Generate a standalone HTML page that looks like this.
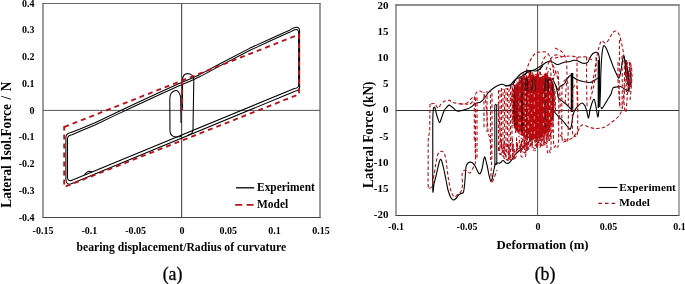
<!DOCTYPE html>
<html><head><meta charset="utf-8">
<style>
html,body{margin:0;padding:0;background:#fff;width:685px;height:284px;overflow:hidden}
svg{display:block;will-change:transform}
text{font-family:"Liberation Serif",serif;font-weight:bold;fill:#000}
.t{font-size:10px}
</style></head><body>
<svg width="685" height="284" viewBox="0 0 685 284">
<!-- ===== Plot (a) ===== -->
<g id="pa">
<line x1="42.4" y1="3.5" x2="320.6" y2="3.5" stroke="#666" stroke-width="1"/>
<line x1="42.4" y1="217.5" x2="320.6" y2="217.5" stroke="#444" stroke-width="1"/>
<line x1="43" y1="3" x2="43" y2="218" stroke="#666" stroke-width="1.3"/>
<line x1="320" y1="3" x2="320" y2="218" stroke="#666" stroke-width="1.3"/>
<line x1="43" y1="110.4" x2="320" y2="110.4" stroke="#555" stroke-width="1"/>
<line x1="181.6" y1="3.5" x2="181.6" y2="217.5" stroke="#555" stroke-width="1.2"/>
<g class="t" text-anchor="end">
<text x="34.5" y="6.5">0.4</text>
<text x="34.5" y="33.3">0.3</text>
<text x="34.5" y="60">0.2</text>
<text x="34.5" y="86.8">0.1</text>
<text x="34.5" y="113.5">0</text>
<text x="34.5" y="140.3">-0.1</text>
<text x="34.5" y="167">-0.2</text>
<text x="34.5" y="193.8">-0.3</text>
<text x="34.5" y="220.5">-0.4</text>
</g>
<g class="t" text-anchor="middle">
<text x="43" y="233.5">-0.15</text>
<text x="89.3" y="233.5">-0.1</text>
<text x="135.6" y="233.5">-0.05</text>
<text x="182" y="233.5">0</text>
<text x="228.3" y="233.5">0.05</text>
<text x="274.6" y="233.5">0.1</text>
<text x="320.9" y="233.5">0.15</text>
</g>
<text x="181.3" y="251" text-anchor="middle" style="font-size:11.68px">bearing displacement/Radius of curvature</text>
<text transform="translate(10.8,144.7) scale(1.1,1) rotate(-90)" text-anchor="middle" style="font-size:13.4px;word-spacing:1.2px">Lateral Isol.Force / N</text>
<!-- data -->
<g fill="none" stroke="#000" stroke-width="1.05">
<path stroke-linejoin="round" d="M65.9,179 L65.9,137.5 Q65.9,133.5 71,132.6 L80.0,129.1 L95.0,122.8 L115.0,113.2 L135.0,103.8 L155.0,94.5 L178.0,84.0 L190.0,79.1 L200.0,74.4 L220.0,63.7 L250.0,48.1 L270.0,38.9 L290.0,29.9 L293.5,27.9 Q299.6,25.5 299.6,31 L299.6,87.5 Q299.6,90.2 295,91.3 L72,183.5 Q65.9,186 65.9,179 Z"/>
<path stroke-linejoin="round" d="M67.5,177 L67.5,139 Q67.5,135.5 72,134.8 L80.0,131.3 L95.0,125.0 L115.0,115.4 L135.0,106.0 L155.0,96.7 L178.0,86.2 L190.0,81.3 L200.0,76.6 L220.0,65.9 L250.0,50.3 L270.0,41.1 L290.0,32.1 L294,30 Q298.6,28 298.6,33 L298.6,85.5 Q298.6,88 294.5,88.5 L72,180.2 Q67.5,182 67.5,177 Z"/>
<path d="M181,123 L180.7,97 C179.5,93 178,91 176.5,90.6 C175,90.4 173,91.5 171.8,92.5 C170.3,94 169.8,96 169.8,100 L170,131 C170,135 172,136.5 176,137 L181,136.5"/>
<path d="M182.5,110 L182.5,80 C182.8,75 185,73.6 187.5,73.6 C191,73.6 193.8,76 193.8,80 L193,130 C192.8,133 191,134.5 188,135"/>
<path d="M84.5,174.8 Q88,169.5 92,172"/>
</g>
<path d="M64.2,127 L299,34.5 L299,94.3 L64.2,187 Z M182.1,80.6 L182.1,110.5" fill="none" stroke="#b8141c" stroke-width="1.9" stroke-dasharray="5,4"/>
<!-- legend -->
<line x1="236" y1="187.8" x2="254.2" y2="187.8" stroke="#000" stroke-width="1.3"/>
<line x1="235.2" y1="204.9" x2="253.5" y2="204.9" stroke="#b8141c" stroke-width="1.9" stroke-dasharray="7,4.4"/>
<text x="257" y="191.4" style="font-size:11.45px">Experiment</text>
<text x="257" y="208.3" style="font-size:11.45px">Model</text>
<text x="172.5" y="280" text-anchor="middle" style="font-size:17.8px;font-weight:normal;stroke:#000;stroke-width:0.3px">(a)</text>
</g>

<!-- ===== Plot (b) ===== -->
<g id="pb">
<line x1="395.4" y1="5" x2="679.6" y2="5" stroke="#696969" stroke-width="1.4"/>
<line x1="395.4" y1="215.5" x2="679.6" y2="215.5" stroke="#3c3c3c" stroke-width="1"/>
<line x1="396" y1="4.3" x2="396" y2="216" stroke="#777" stroke-width="1.4"/>
<line x1="679" y1="4.3" x2="679" y2="216" stroke="#888" stroke-width="1.4"/>
<line x1="396" y1="110.5" x2="679" y2="110.5" stroke="#333" stroke-width="1"/>
<line x1="537.6" y1="5" x2="537.6" y2="215.5" stroke="#555" stroke-width="1"/>
<g class="t" text-anchor="end" transform="translate(388.3,0) scale(1.1,1) translate(-388.3,0)">
<text x="388.5" y="8.5">20</text>
<text x="388.5" y="34.8">15</text>
<text x="388.5" y="61">10</text>
<text x="388.5" y="87.3">5</text>
<text x="388.5" y="113.5">0</text>
<text x="388.5" y="139.8">-5</text>
<text x="388.5" y="166">-10</text>
<text x="388.5" y="192.3">-15</text>
<text x="388.5" y="218.5">-20</text>
</g>
<g class="t" text-anchor="middle">
<text x="396" y="230">-0.1</text>
<text x="467" y="230">-0.05</text>
<text x="538" y="230">0</text>
<text x="608.5" y="230">0.05</text>
<text x="679.5" y="230">0.1</text>
</g>
<text x="542.6" y="248.7" text-anchor="middle" style="font-size:12.8px">Deformation (m)</text>
<text transform="translate(373.3,134.8) scale(1.1,1) rotate(-90)" text-anchor="middle" style="font-size:13.28px">Lateral Force (kN)</text>
<g id="bdata">
<path d="M465.0,109.5 C464.2,109.8 461.5,110.8 460.0,111.0 C458.5,111.2 457.3,111.2 456.0,110.5 C454.7,109.8 453.2,107.9 452.0,107.0 C450.8,106.1 450.0,104.9 449.0,105.1 C448.0,105.3 446.8,107.0 446.0,108.0 C445.2,109.0 444.8,109.3 444.0,111.0 C443.2,112.7 442.2,116.1 441.5,118.0 C440.8,119.9 440.2,122.9 439.5,122.6 C438.8,122.3 437.8,118.4 437.0,116.0 C436.2,113.6 435.4,109.5 435.0,108.0 C434.6,106.5 434.6,107.1 434.3,107.3 C434.0,107.5 433.6,106.9 433.3,109.0 C433.1,111.1 432.9,113.2 432.8,120.0 C432.7,126.8 432.8,138.2 432.8,150.0 C432.8,161.8 432.6,184.8 432.8,190.5 C433.0,196.2 433.5,186.4 434.0,184.0 C434.5,181.6 435.2,179.2 436.0,176.0 C436.8,172.8 437.8,167.8 438.5,165.0 C439.2,162.2 439.7,159.8 440.3,159.3 C440.9,158.8 441.4,160.2 442.0,162.0 C442.6,163.8 443.3,167.0 444.0,170.0 C444.7,173.0 445.3,176.7 446.0,180.0 C446.7,183.3 447.2,187.2 448.0,190.0 C448.8,192.8 449.7,195.3 450.5,197.0 C451.3,198.7 452.1,199.7 453.0,199.9 C453.9,200.2 455.1,199.3 456.0,198.5 C456.9,197.7 457.7,195.8 458.5,195.0 C459.3,194.2 460.2,194.0 461.0,193.5 C461.8,193.0 462.8,194.2 463.5,192.0 C464.2,189.8 464.6,184.2 465.0,180.0 C465.4,175.8 465.5,169.8 466.0,167.0 C466.5,164.2 467.0,163.8 468.0,163.0 C469.0,162.2 470.8,162.0 472.0,162.5 C473.2,163.0 474.0,164.4 475.0,166.0 C476.0,167.6 477.2,170.7 478.0,172.0 C478.8,173.3 479.3,174.3 480.0,173.8 C480.7,173.3 481.2,171.8 482.0,169.0 C482.8,166.2 483.7,157.7 484.5,157.0 C485.3,156.3 486.2,162.0 487.0,165.0 C487.8,168.0 488.3,172.3 489.0,175.0 C489.7,177.7 490.6,181.7 491.3,181.2 C492.1,180.7 492.9,174.7 493.5,172.0 C494.1,169.3 494.4,166.5 495.0,165.0 C495.6,163.5 496.2,163.3 497.0,163.0 C497.8,162.7 499.0,163.4 500.0,163.0 C501.0,162.6 502.0,160.5 503.0,160.5 C504.0,160.5 505.0,162.6 506.0,163.0 C507.0,163.4 508.0,163.6 509.0,163.0 C510.0,162.4 511.0,160.8 512.0,159.5 C513.0,158.2 513.7,156.6 515.0,155.0 C516.3,153.4 518.3,151.5 520.0,150.0 C521.7,148.5 523.3,147.5 525.0,146.0 C526.7,144.5 528.3,142.5 530.0,141.0 C531.7,139.5 534.2,137.7 535.0,137.0" stroke="#000" stroke-width="1.1" fill="none"/>
<path d="M465.0,109.5 C465.5,109.4 467.0,109.2 468.0,108.8 C469.0,108.4 469.7,107.9 471.0,107.0 C472.3,106.1 474.2,104.0 475.8,103.2 C477.4,102.4 479.1,103.0 480.6,102.0 C482.1,101.0 483.7,99.1 485.0,97.5 C486.3,95.9 487.0,94.0 488.5,92.4 C490.0,90.8 492.1,89.0 494.0,87.7 C495.9,86.4 498.2,85.4 499.6,84.8 C501.0,84.2 501.4,84.2 502.5,84.3 C503.6,84.4 504.8,85.4 506.0,85.5 C507.2,85.6 508.8,85.6 510.0,85.0 C511.2,84.4 512.0,83.0 513.0,82.0 C514.0,81.0 514.8,79.8 516.0,79.0 C517.2,78.2 518.5,78.3 520.0,77.5 C521.5,76.7 523.3,75.0 525.0,74.0 C526.7,73.0 528.3,72.2 530.0,71.5 C531.7,70.8 533.3,70.3 535.0,69.5 C536.7,68.7 538.3,67.5 540.0,66.5 C541.7,65.5 543.3,64.1 545.0,63.2 C546.7,62.3 548.3,61.1 550.0,61.1 C551.7,61.1 553.7,62.9 555.0,63.5 C556.3,64.1 556.8,64.6 558.0,64.5 C559.2,64.4 560.7,63.4 562.0,63.0 C563.3,62.6 564.7,62.2 566.0,62.0 C567.3,61.8 568.7,61.8 570.0,61.5 C571.3,61.2 572.7,60.4 574.0,60.3 C575.3,60.2 576.7,60.5 578.0,61.0 C579.3,61.5 580.8,62.6 582.0,63.0 C583.2,63.4 584.0,63.5 585.0,63.3 C586.0,63.1 587.2,63.0 588.0,62.0 C588.8,61.0 589.2,58.9 590.0,57.5 C590.8,56.1 592.0,54.4 593.0,53.5 C594.0,52.6 595.2,52.3 596.0,52.2 C596.8,52.1 597.5,52.4 598.0,53.0 C598.5,53.6 598.8,54.5 599.0,56.0 C599.2,57.5 599.4,58.0 599.5,62.0 C599.6,66.0 599.5,73.7 599.5,80.0 C599.5,86.3 599.4,95.5 599.3,100.0 C599.2,104.5 599.0,105.8 599.0,107.0" stroke="#000" stroke-width="1.1" fill="none"/>
<path d="M599.8,107.0 C599.9,104.2 600.3,95.3 600.5,90.0 C600.7,84.7 600.6,80.0 600.8,75.0 C601.0,70.0 601.2,64.2 601.5,60.0 C601.8,55.8 602.1,52.4 602.5,50.0 C602.9,47.6 603.2,46.1 603.7,45.6 C604.2,45.1 605.0,46.3 605.5,47.0 C606.0,47.7 606.2,48.2 607.0,50.0 C607.8,51.8 609.0,55.3 610.0,58.0 C611.0,60.7 612.0,63.5 613.0,66.0 C614.0,68.5 615.0,71.0 616.0,73.0 C617.0,75.0 618.2,78.6 619.0,78.1 C619.8,77.6 620.3,73.3 621.0,70.0 C621.7,66.7 622.5,60.3 623.0,58.0 C623.5,55.7 623.7,55.3 624.0,56.0 C624.3,56.7 624.7,58.8 625.0,62.0 C625.3,65.2 625.5,71.2 626.0,75.0 C626.5,78.8 627.7,83.3 628.0,85.0" stroke="#000" stroke-width="1.1" fill="none"/>
<path d="M601.0,107.0 C601.2,107.2 601.3,109.0 602.0,108.5 C602.7,108.0 604.0,105.6 605.0,104.0 C606.0,102.4 607.0,100.7 608.0,99.0 C609.0,97.3 610.2,95.8 611.0,94.0 C611.8,92.2 612.0,89.2 613.0,88.0 C614.0,86.8 615.8,87.3 617.0,87.0 C618.2,86.7 619.0,86.1 620.0,86.3 C621.0,86.5 622.0,87.4 623.0,88.0 C624.0,88.6 625.2,89.7 626.0,90.0 C626.8,90.3 627.3,90.7 628.0,90.0 C628.7,89.3 629.5,87.7 630.0,86.0 C630.5,84.3 631.0,82.7 631.0,80.0 C631.0,77.3 630.3,72.2 630.0,70.0 C629.7,67.8 629.2,67.5 629.0,67.0" stroke="#000" stroke-width="1.1" fill="none"/>
<path d="M552.0,78.0 C552.7,79.3 555.0,84.0 556.0,86.0 C557.0,88.0 557.3,89.9 558.0,90.0 C558.7,90.1 559.2,87.3 560.0,86.5 C560.8,85.7 562.2,85.6 563.0,85.0 C563.8,84.4 564.3,84.0 565.0,83.0 C565.7,82.0 566.3,80.1 567.0,79.0 C567.7,77.9 568.3,77.2 569.0,76.5 C569.7,75.8 570.7,75.2 571.0,75.0" stroke="#000" stroke-width="1.1" fill="none"/>
<path d="M573.0,77.0 C573.8,77.5 576.3,79.2 578.0,80.0 C579.7,80.8 581.0,81.1 583.0,81.5 C585.0,81.9 588.0,82.8 590.0,82.5 C592.0,82.2 593.7,80.8 595.0,80.0 C596.3,79.2 597.5,78.3 598.0,78.0" stroke="#000" stroke-width="1.1" fill="none"/>
<path d="M550.0,105.0 C550.5,105.8 551.7,108.2 553.0,110.0 C554.3,111.8 556.3,114.2 558.0,116.0 C559.7,117.8 561.5,119.3 563.0,121.0 C564.5,122.7 565.8,124.7 567.0,126.0 C568.2,127.3 569.5,129.7 570.3,129.0 C571.1,128.3 571.5,124.3 572.0,122.0 C572.5,119.7 572.5,117.0 573.0,115.0 C573.5,113.0 574.2,111.5 575.0,110.0 C575.8,108.5 576.8,107.2 578.0,106.0 C579.2,104.8 580.8,103.0 582.0,103.0 C583.2,103.0 584.2,104.5 585.0,106.0 C585.8,107.5 586.4,110.0 587.0,112.0 C587.6,114.0 588.0,118.3 588.5,118.0 C589.0,117.7 589.4,112.5 590.0,110.0 C590.6,107.5 591.3,104.8 592.0,103.0 C592.7,101.2 593.4,98.8 594.0,99.0 C594.6,99.2 595.0,101.7 595.5,104.0 C596.0,106.3 596.6,110.8 597.0,113.0 C597.4,115.2 597.7,117.5 598.0,117.0 C598.3,116.5 598.8,111.2 599.0,110.0" stroke="#000" stroke-width="1.1" fill="none"/>
<path d="M556.0,86.0 C556.2,87.2 557.1,91.0 557.5,93.0 C557.9,95.0 557.8,96.7 558.5,98.0 C559.2,99.3 560.8,100.0 562.0,101.0 C563.2,102.0 564.7,102.8 566.0,104.0 C567.3,105.2 568.8,106.8 570.0,108.0 C571.2,109.2 572.5,110.5 573.0,111.0" stroke="#000" stroke-width="1.1" fill="none"/>
<path d="M524.0,78.0 C524.3,77.2 525.3,74.2 526.0,73.0 C526.7,71.8 527.2,71.0 528.0,71.0 C528.8,71.0 530.2,71.5 531.0,73.0 C531.8,74.5 532.7,78.8 533.0,80.0" stroke="#000" stroke-width="1.1" fill="none"/>
<path d="M494.9,165 L494.8,106 Q495.7,102.5 496.7,106 L496.8,165" stroke="#000" stroke-width="1.05" fill="none"/>
<path d="M572,112 L572,73" stroke="#000" stroke-width="2.6" fill="none"/>
<path d="M598.3,108 L598.3,60" stroke="#000" stroke-width="1.3" fill="none"/>
<path d="M626,60 C627,64 628.5,70 629.3,76 C629.6,80 629.4,84 629,86 L628,86 C627.6,80 626.5,72 625.5,65 Z" fill="#a00010" stroke="none"/>
<path d="M549.8,78 L550.3,120" stroke="#000" stroke-width="1.4" fill="none"/>
<path d="M623,55 C625,58 626,66 628,72 C629,78 629.5,85 629,92" stroke="#000" stroke-width="1.2" fill="none"/>
<path d="M431.0,103.8 C431.7,103.8 433.8,103.0 435.0,103.8 C436.2,104.5 437.2,108.3 438.2,108.3 C439.2,108.3 439.9,105.2 441.0,104.0 C442.1,102.8 443.6,101.6 445.0,101.0 C446.4,100.4 448.0,100.2 449.3,100.4 C450.6,100.7 451.6,102.0 453.0,102.5 C454.4,103.0 456.0,103.2 458.0,103.5 C460.0,103.8 463.0,103.9 465.0,104.0 C467.0,104.1 468.7,104.5 470.0,104.0 C471.3,103.5 472.5,101.5 473.0,101.0" stroke="#b01018" stroke-width="1.1" stroke-dasharray="3.5,2.2" fill="none"/>
<path d="M430.0,104.0 C430.0,105.8 429.9,110.7 429.8,115.0 C429.8,119.3 429.9,125.8 429.7,130.0 C429.4,134.2 428.6,135.0 428.3,140.0 C428.1,145.0 428.2,152.3 428.2,160.0 C428.2,167.7 427.9,181.3 428.2,186.0 C428.5,190.7 429.4,188.0 430.0,188.0 C430.6,188.0 431.3,188.2 432.0,186.0 C432.7,183.8 433.3,178.8 434.0,175.0 C434.7,171.2 435.3,166.5 436.0,163.0 C436.7,159.5 437.2,155.9 438.0,154.0 C438.8,152.1 440.0,151.5 441.0,151.3 C442.0,151.1 443.2,151.6 444.0,153.0 C444.8,154.4 445.4,156.8 446.0,160.0 C446.6,163.2 447.0,168.3 447.5,172.0 C448.0,175.7 448.4,178.8 449.0,182.0 C449.6,185.2 450.3,188.8 451.0,191.0 C451.7,193.2 452.3,194.5 453.0,195.5 C453.7,196.5 454.2,197.2 455.0,197.0 C455.8,196.8 457.0,194.9 458.0,194.0 C459.0,193.1 460.2,193.0 461.0,191.5 C461.8,190.0 462.3,187.8 462.5,185.0 C462.7,182.2 461.8,177.4 462.0,175.0 C462.2,172.6 463.2,171.2 464.0,170.5 C464.8,169.8 466.0,170.6 467.0,171.0 C468.0,171.4 469.0,173.5 470.0,173.0 C471.0,172.5 472.1,169.8 473.0,168.0 C473.9,166.2 475.1,165.0 475.5,162.0 C475.9,159.0 475.2,154.0 475.2,150.0 C475.1,146.0 475.2,140.0 475.2,138.0" stroke="#b01018" stroke-width="1.1" stroke-dasharray="3.5,2.2" fill="none"/>
<path d="M474.3,140.0 C474.3,135.0 474.3,117.2 474.3,110.0 C474.3,102.8 474.1,100.0 474.5,97.0 C474.9,94.0 476.1,93.0 477.0,92.0 C477.9,91.0 479.0,90.8 480.0,91.0 C481.0,91.2 482.2,92.0 483.0,93.0 C483.8,94.0 484.5,95.0 485.0,97.0 C485.5,99.0 485.7,102.0 486.0,105.0 C486.3,108.0 486.7,110.8 487.0,115.0 C487.3,119.2 487.5,125.8 488.0,130.0 C488.5,134.2 489.4,136.7 490.0,140.0 C490.6,143.3 491.4,146.7 491.7,150.0 C492.0,153.3 491.8,155.8 491.7,160.0 C491.6,164.2 491.0,171.2 491.0,175.0 C491.0,178.8 491.0,182.5 491.5,183.0 C492.0,183.5 493.1,180.2 494.0,178.0 C494.9,175.8 496.5,171.3 497.0,170.0" stroke="#b01018" stroke-width="1.1" stroke-dasharray="3.5,2.2" fill="none"/>
<path d="M460.0,104.0 C461.0,103.9 464.3,104.2 466.0,103.5 C467.7,102.8 468.7,101.2 470.0,100.0 C471.3,98.8 473.3,96.7 474.0,96.0" stroke="#b01018" stroke-width="1.1" stroke-dasharray="3.5,2.2" fill="none"/>
<path d="M498.0,104.0 C498.2,105.8 498.7,110.7 499.0,115.0 C499.3,119.3 499.7,125.0 500.0,130.0 C500.3,135.0 500.5,141.3 501.0,145.0 C501.5,148.7 502.2,151.2 503.0,152.0 C503.8,152.8 505.5,150.3 506.0,150.0" stroke="#b01018" stroke-width="1.1" stroke-dasharray="3.5,2.2" fill="none"/>
<path d="M560.0,135.0 C561.0,135.8 564.0,139.5 566.0,140.0 C568.0,140.5 570.0,139.5 572.0,138.0 C574.0,136.5 576.3,133.2 578.0,131.0 C579.7,128.8 580.0,125.6 582.0,125.0 C584.0,124.4 587.5,126.9 590.0,127.5 C592.5,128.1 594.5,128.6 597.0,128.5 C599.5,128.4 602.5,128.1 605.0,127.0 C607.5,125.9 609.8,123.7 612.0,122.0 C614.2,120.3 616.4,118.8 618.0,117.0 C619.6,115.2 620.7,113.3 621.5,111.0 C622.3,108.7 622.6,106.5 623.0,103.0 C623.4,99.5 623.8,94.7 624.0,90.0 C624.2,85.3 624.5,80.0 624.5,75.0 C624.5,70.0 624.2,64.2 624.0,60.0 C623.8,55.8 623.4,52.8 623.0,50.0 C622.6,47.2 622.0,45.2 621.5,43.0 C621.0,40.8 620.6,38.8 620.0,37.0 C619.4,35.2 618.7,33.5 618.0,32.5 C617.3,31.5 616.8,31.1 616.0,31.0 C615.2,30.9 614.3,31.2 613.5,32.0 C612.7,32.8 611.8,34.2 611.0,35.5 C610.2,36.8 609.3,38.8 608.5,40.0 C607.7,41.2 606.8,42.6 606.0,43.0 C605.2,43.4 604.7,42.9 604.0,42.5 C603.3,42.1 602.6,40.4 602.0,40.5 C601.4,40.6 600.9,41.6 600.3,43.0 C599.7,44.4 599.1,46.7 598.5,49.0 C597.9,51.3 597.3,54.2 596.8,57.0 C596.3,59.8 596.0,63.0 595.5,66.0 C595.0,69.0 594.8,71.0 594.0,75.0 C593.2,79.0 591.5,87.5 591.0,90.0" stroke="#b01018" stroke-width="1.1" stroke-dasharray="3.5,2.2" fill="none"/>
<path d="M619.5,40.0 C619.5,42.5 619.5,50.0 619.5,55.0 C619.5,60.0 619.3,64.2 619.3,70.0 C619.3,75.8 619.2,83.7 619.3,90.0 C619.4,96.3 619.9,105.0 620.0,108.0" stroke="#b01018" stroke-width="1.1" stroke-dasharray="3.5,2.2" fill="none"/>
<path d="M555.0,58.0 C555.8,57.8 557.5,57.3 560.0,57.0 C562.5,56.7 567.2,56.0 570.0,56.0 C572.8,56.0 575.0,56.8 577.0,57.0 C579.0,57.2 580.3,57.0 582.0,57.0 C583.7,57.0 585.3,56.5 587.0,57.0 C588.7,57.5 591.2,59.5 592.0,60.0" stroke="#b01018" stroke-width="1.1" stroke-dasharray="3.5,2.2" fill="none"/>
<path d="M577.0,57.0 C577.0,59.2 577.0,64.5 577.0,70.0 C577.0,75.5 576.9,83.3 577.0,90.0 C577.1,96.7 577.4,106.7 577.5,110.0" stroke="#b01018" stroke-width="1.1" stroke-dasharray="3.5,2.2" fill="none"/>
<path d="M586.6,57.0 C586.6,60.0 586.6,68.7 586.6,75.0 C586.6,81.3 586.7,89.5 586.8,95.0 C586.9,100.5 587.0,105.8 587.0,108.0" stroke="#b01018" stroke-width="1.1" stroke-dasharray="3.5,2.2" fill="none"/>
<path d="M596.0,57.0 C596.0,59.2 596.3,65.3 596.0,70.0 C595.7,74.7 595.0,80.0 594.0,85.0 C593.0,90.0 590.7,97.5 590.0,100.0" stroke="#b01018" stroke-width="1.1" stroke-dasharray="3.5,2.2" fill="none"/>
<path d="M626.0,112.0 C626.2,110.0 626.7,104.0 627.0,100.0 C627.3,96.0 627.7,92.2 628.0,88.0 C628.3,83.8 628.7,78.7 629.0,75.0 C629.3,71.3 630.2,68.2 630.0,66.0 C629.8,63.8 628.7,61.3 628.0,62.0 C627.3,62.7 626.5,66.2 626.0,70.0 C625.5,73.8 625.3,80.0 625.0,85.0 C624.7,90.0 624.0,95.5 624.0,100.0 C624.0,104.5 624.8,110.0 625.0,112.0" stroke="#b01018" stroke-width="1.1" stroke-dasharray="3.5,2.2" fill="none"/>
<path d="M618.0,62.0 C618.0,65.0 617.8,74.5 618.0,80.0 C618.2,85.5 618.7,90.3 619.0,95.0 C619.3,99.7 619.8,105.8 620.0,108.0" stroke="#b01018" stroke-width="1.1" stroke-dasharray="3.5,2.2" fill="none"/>
<path d="M630.0,100.0 C630.2,98.3 630.7,94.2 631.0,90.0 C631.3,85.8 632.0,79.2 632.0,75.0 C632.0,70.8 631.5,67.5 631.0,65.0 C630.5,62.5 629.3,60.8 629.0,60.0" stroke="#b01018" stroke-width="1.1" stroke-dasharray="3.5,2.2" fill="none"/>
<path d="M622.0,56.0 C622.0,60.3 622.3,73.3 622.3,82.0 C622.3,90.7 622.0,103.7 622.0,108.0" stroke="#b01018" stroke-width="1.1" stroke-dasharray="3.5,2.2" fill="none"/>
<path d="M626.5,60.0 C626.5,62.9 626.8,71.7 626.8,77.5 C626.8,83.3 626.5,92.1 626.5,95.0" stroke="#b01018" stroke-width="1.1" stroke-dasharray="3.5,2.2" fill="none"/>
<path d="M629.5,62.0 C629.5,64.3 629.8,71.3 629.8,76.0 C629.8,80.7 629.5,87.7 629.5,90.0" stroke="#b01018" stroke-width="1.1" stroke-dasharray="3.5,2.2" fill="none"/>
<path d="M631.0,66.0 C631.0,67.8 631.3,73.3 631.3,77.0 C631.3,80.7 631.0,86.2 631.0,88.0" stroke="#b01018" stroke-width="1.1" stroke-dasharray="3.5,2.2" fill="none"/>
<path d="M526.0,72.0 C526.5,70.5 527.8,65.7 529.0,63.0 C530.2,60.3 531.7,57.8 533.0,56.0 C534.3,54.2 535.5,53.2 537.0,52.5 C538.5,51.8 540.5,52.1 542.0,52.0 C543.5,51.9 544.8,51.5 546.0,52.0 C547.2,52.5 548.2,53.7 549.0,55.0 C549.8,56.3 550.3,57.8 551.0,60.0 C551.7,62.2 552.5,65.3 553.0,68.0 C553.5,70.7 553.8,74.7 554.0,76.0" stroke="#b01018" stroke-width="1.1" stroke-dasharray="3.5,2.2" fill="none"/>
<path d="M540.0,70.0 C540.3,68.8 541.2,65.2 542.0,63.0 C542.8,60.8 544.0,58.3 545.0,57.0 C546.0,55.7 547.5,55.3 548.0,55.0" stroke="#b01018" stroke-width="1.1" stroke-dasharray="3.5,2.2" fill="none"/>
<path d="M546.0,70.0 C546.5,68.7 547.8,64.3 549.0,62.0 C550.2,59.7 551.5,57.2 553.0,56.0 C554.5,54.8 556.5,54.8 558.0,55.0 C559.5,55.2 561.3,56.7 562.0,57.0" stroke="#b01018" stroke-width="1.1" stroke-dasharray="3.5,2.2" fill="none"/>
<path d="M550.0,60.0 C550.8,61.7 553.7,66.7 555.0,70.0 C556.3,73.3 557.2,75.8 558.0,80.0 C558.8,84.2 559.7,90.0 560.0,95.0 C560.3,100.0 560.3,105.0 560.0,110.0 C559.7,115.0 558.3,122.5 558.0,125.0" stroke="#b01018" stroke-width="1.1" stroke-dasharray="3.5,2.2" fill="none"/>
<path d="M555.0,48.0 C556.2,48.7 560.2,50.0 562.0,52.0 C563.8,54.0 565.2,56.2 566.0,60.0 C566.8,63.8 567.0,70.0 567.0,75.0 C567.0,80.0 566.3,85.0 566.0,90.0 C565.7,95.0 565.2,102.5 565.0,105.0" stroke="#b01018" stroke-width="1.1" stroke-dasharray="3.5,2.2" fill="none"/>
<path d="M513.5,90.9 L515.1,87.3 L516.7,86.2 L518.3,81.4 L519.9,79.7 L521.5,79.1 L523.1,75.7 L524.7,76.8 L526.3,76.8 L527.9,77.1 L529.5,72.3 L531.1,73.3 L532.7,72.0 L534.3,76.4 L535.9,75.7 L537.5,71.8 L539.1,77.4 L540.7,77.4 L542.3,75.8 L543.9,75.8 L545.5,73.4 L547.1,73.4 L548.7,77.7 L550.3,76.5 L551.9,80.4 L553.5,84.0 L554.5,100.0 L554.0,113.0 L552.0,124.0 L548.0,132.0 L541.0,137.0 L533.0,139.0 L525.0,137.5 L519.0,134.0 L515.0,129.0 L513.3,122.0 L513.0,105.0 Z" fill="#c80000" stroke="none"/>
<path d="M512.5,86.9 L512.5,123.7" stroke="#b01018" stroke-width="1.1" stroke-dasharray="3.5,2.2" stroke-dashoffset="4.9" fill="none"/>
<path d="M513.6,83.5 L514.3,127.9" stroke="#b01018" stroke-width="1.1" stroke-dasharray="3.5,2.2" stroke-dashoffset="0.8" fill="none"/>
<path d="M514.5,82.1 L514.4,128.9" stroke="#b01018" stroke-width="1.1" stroke-dasharray="3.5,2.2" stroke-dashoffset="2.6" fill="none"/>
<path d="M515.2,84.2 L514.9,126.8" stroke="#b01018" stroke-width="1.1" stroke-dasharray="3.5,2.2" stroke-dashoffset="1.0" fill="none"/>
<path d="M516.0,83.2 L515.6,133.0" stroke="#b01018" stroke-width="1.1" stroke-dasharray="3.5,2.2" stroke-dashoffset="3.6" fill="none"/>
<path d="M516.8,80.7 L515.8,132.5" stroke="#b01018" stroke-width="1.1" stroke-dasharray="3.5,2.2" stroke-dashoffset="2.8" fill="none"/>
<path d="M518.0,82.0 L517.9,132.4" stroke="#b01018" stroke-width="1.1" stroke-dasharray="3.5,2.2" stroke-dashoffset="0.1" fill="none"/>
<path d="M519.3,76.2 L519.0,137.2" stroke="#b01018" stroke-width="1.1" stroke-dasharray="3.5,2.2" stroke-dashoffset="3.1" fill="none"/>
<path d="M520.2,76.0 L520.2,132.9" stroke="#b01018" stroke-width="1.1" stroke-dasharray="3.5,2.2" stroke-dashoffset="0.3" fill="none"/>
<path d="M521.1,80.7 L522.0,133.9" stroke="#b01018" stroke-width="1.1" stroke-dasharray="3.5,2.2" stroke-dashoffset="3.9" fill="none"/>
<path d="M522.1,78.4 L523.1,135.9" stroke="#b01018" stroke-width="1.1" stroke-dasharray="3.5,2.2" stroke-dashoffset="0.5" fill="none"/>
<path d="M523.2,73.0 L522.7,134.3" stroke="#b01018" stroke-width="1.1" stroke-dasharray="3.5,2.2" stroke-dashoffset="0.2" fill="none"/>
<path d="M524.0,77.3 L524.5,137.4" stroke="#b01018" stroke-width="1.1" stroke-dasharray="3.5,2.2" stroke-dashoffset="1.4" fill="none"/>
<path d="M524.9,75.8 L524.1,138.1" stroke="#b01018" stroke-width="1.1" stroke-dasharray="3.5,2.2" stroke-dashoffset="2.1" fill="none"/>
<path d="M525.7,77.2 L526.6,140.0" stroke="#b01018" stroke-width="1.1" stroke-dasharray="3.5,2.2" stroke-dashoffset="4.1" fill="none"/>
<path d="M526.6,75.3 L526.1,139.0" stroke="#b01018" stroke-width="1.1" stroke-dasharray="3.5,2.2" stroke-dashoffset="0.7" fill="none"/>
<path d="M527.8,76.3 L528.7,137.6" stroke="#b01018" stroke-width="1.1" stroke-dasharray="3.5,2.2" stroke-dashoffset="2.9" fill="none"/>
<path d="M529.1,71.1 L529.5,138.7" stroke="#b01018" stroke-width="1.1" stroke-dasharray="3.5,2.2" stroke-dashoffset="0.4" fill="none"/>
<path d="M530.3,71.2 L529.4,139.4" stroke="#b01018" stroke-width="1.1" stroke-dasharray="3.5,2.2" stroke-dashoffset="3.4" fill="none"/>
<path d="M531.0,75.4 L530.8,141.4" stroke="#b01018" stroke-width="1.1" stroke-dasharray="3.5,2.2" stroke-dashoffset="0.4" fill="none"/>
<path d="M532.0,77.1 L532.9,138.2" stroke="#b01018" stroke-width="1.1" stroke-dasharray="3.5,2.2" stroke-dashoffset="3.2" fill="none"/>
<path d="M533.1,75.0 L533.7,140.1" stroke="#b01018" stroke-width="1.1" stroke-dasharray="3.5,2.2" stroke-dashoffset="0.4" fill="none"/>
<path d="M534.1,77.0 L534.8,142.6" stroke="#b01018" stroke-width="1.1" stroke-dasharray="3.5,2.2" stroke-dashoffset="0.3" fill="none"/>
<path d="M535.1,75.7 L535.8,136.4" stroke="#b01018" stroke-width="1.1" stroke-dasharray="3.5,2.2" stroke-dashoffset="2.3" fill="none"/>
<path d="M536.2,75.6 L535.9,143.0" stroke="#b01018" stroke-width="1.1" stroke-dasharray="3.5,2.2" stroke-dashoffset="2.8" fill="none"/>
<path d="M537.4,72.8 L538.3,138.7" stroke="#b01018" stroke-width="1.1" stroke-dasharray="3.5,2.2" stroke-dashoffset="1.3" fill="none"/>
<path d="M538.5,70.7 L537.8,139.2" stroke="#b01018" stroke-width="1.1" stroke-dasharray="3.5,2.2" stroke-dashoffset="2.6" fill="none"/>
<path d="M539.3,71.6 L538.8,136.4" stroke="#b01018" stroke-width="1.1" stroke-dasharray="3.5,2.2" stroke-dashoffset="0.5" fill="none"/>
<path d="M540.5,71.7 L539.8,137.4" stroke="#b01018" stroke-width="1.1" stroke-dasharray="3.5,2.2" stroke-dashoffset="0.3" fill="none"/>
<path d="M541.4,77.7 L540.8,135.4" stroke="#b01018" stroke-width="1.1" stroke-dasharray="3.5,2.2" stroke-dashoffset="1.6" fill="none"/>
<path d="M542.4,75.2 L542.0,140.3" stroke="#b01018" stroke-width="1.1" stroke-dasharray="3.5,2.2" stroke-dashoffset="3.8" fill="none"/>
<path d="M543.6,77.8 L543.2,135.1" stroke="#b01018" stroke-width="1.1" stroke-dasharray="3.5,2.2" stroke-dashoffset="2.5" fill="none"/>
<path d="M544.5,73.8 L543.9,138.6" stroke="#b01018" stroke-width="1.1" stroke-dasharray="3.5,2.2" stroke-dashoffset="1.7" fill="none"/>
<path d="M545.8,72.7 L544.8,132.0" stroke="#b01018" stroke-width="1.1" stroke-dasharray="3.5,2.2" stroke-dashoffset="1.3" fill="none"/>
<path d="M546.6,73.8 L545.7,132.8" stroke="#b01018" stroke-width="1.1" stroke-dasharray="3.5,2.2" stroke-dashoffset="3.7" fill="none"/>
<path d="M547.7,74.7 L547.8,127.7" stroke="#b01018" stroke-width="1.1" stroke-dasharray="3.5,2.2" stroke-dashoffset="0.9" fill="none"/>
<path d="M548.6,76.1 L548.6,130.1" stroke="#b01018" stroke-width="1.1" stroke-dasharray="3.5,2.2" stroke-dashoffset="4.7" fill="none"/>
<path d="M549.9,79.5 L549.1,127.7" stroke="#b01018" stroke-width="1.1" stroke-dasharray="3.5,2.2" stroke-dashoffset="4.1" fill="none"/>
<path d="M551.0,81.0 L550.8,121.8" stroke="#b01018" stroke-width="1.1" stroke-dasharray="3.5,2.2" stroke-dashoffset="2.5" fill="none"/>
<path d="M552.2,83.9 L552.9,124.2" stroke="#b01018" stroke-width="1.1" stroke-dasharray="3.5,2.2" stroke-dashoffset="2.0" fill="none"/>
<path d="M553.4,83.7 L553.4,117.5" stroke="#b01018" stroke-width="1.1" stroke-dasharray="3.5,2.2" stroke-dashoffset="3.4" fill="none"/>
<path d="M554.2,88.7 L555.1,112.6" stroke="#b01018" stroke-width="1.1" stroke-dasharray="3.5,2.2" stroke-dashoffset="1.7" fill="none"/>
<path d="M554.9,88.3 L555.6,110.8" stroke="#b01018" stroke-width="1.1" stroke-dasharray="3.5,2.2" stroke-dashoffset="3.5" fill="none"/>
<path d="M513.5,87.8 L513.7,125.6" stroke="#000" stroke-opacity="0.52" stroke-width="0.9" stroke-dasharray="1.5,3.4" stroke-dashoffset="1.6" fill="none"/>
<path d="M516.1,84.7 L516.0,129.6" stroke="#000" stroke-opacity="0.60" stroke-width="0.9" stroke-dasharray="2.1,3.9" stroke-dashoffset="9.6" fill="none"/>
<path d="M517.4,85.0 L516.9,129.6" stroke="#000" stroke-opacity="0.84" stroke-width="1.0" stroke-dasharray="1.8,5.1" stroke-dashoffset="4.7" fill="none"/>
<path d="M518.7,80.6 L518.6,133.2" stroke="#fff" stroke-opacity="0.50" stroke-width="0.8" stroke-dasharray="1.7,3.5" stroke-dashoffset="0.2" fill="none"/>
<path d="M520.0,77.8 L520.2,134.6" stroke="#fff" stroke-opacity="0.69" stroke-width="1.2" stroke-dasharray="2.7,6.9" stroke-dashoffset="3.9" fill="none"/>
<path d="M521.3,76.9 L521.6,130.9" stroke="#000" stroke-opacity="0.75" stroke-width="1.2" stroke-dasharray="2.5,3.3" stroke-dashoffset="6.3" fill="none"/>
<path d="M522.6,78.3 L522.9,132.7" stroke="#000" stroke-opacity="0.68" stroke-width="1.1" stroke-dasharray="2.2,8.0" stroke-dashoffset="5.8" fill="none"/>
<path d="M523.9,78.2 L523.8,134.2" stroke="#fff" stroke-opacity="0.58" stroke-width="0.8" stroke-dasharray="1.3,3.8" stroke-dashoffset="8.4" fill="none"/>
<path d="M525.2,75.3 L525.5,135.3" stroke="#fff" stroke-opacity="0.74" stroke-width="1.1" stroke-dasharray="2.2,3.0" stroke-dashoffset="5.0" fill="none"/>
<path d="M526.5,74.9 L526.3,135.3" stroke="#000" stroke-opacity="0.76" stroke-width="1.1" stroke-dasharray="1.7,3.4" stroke-dashoffset="2.1" fill="none"/>
<path d="M527.8,75.9 L528.1,133.7" stroke="#fff" stroke-opacity="0.63" stroke-width="1.0" stroke-dasharray="2.2,7.1" stroke-dashoffset="6.4" fill="none"/>
<path d="M529.1,71.6 L528.6,138.9" stroke="#fff" stroke-opacity="0.76" stroke-width="0.8" stroke-dasharray="1.8,6.4" stroke-dashoffset="2.7" fill="none"/>
<path d="M531.7,72.9 L531.4,136.9" stroke="#fff" stroke-opacity="0.66" stroke-width="1.2" stroke-dasharray="1.4,8.4" stroke-dashoffset="9.4" fill="none"/>
<path d="M534.3,77.1 L534.4,137.3" stroke="#fff" stroke-opacity="0.57" stroke-width="0.9" stroke-dasharray="3.1,4.3" stroke-dashoffset="5.2" fill="none"/>
<path d="M538.2,72.9 L538.2,134.6" stroke="#fff" stroke-opacity="0.51" stroke-width="0.9" stroke-dasharray="1.2,6.0" stroke-dashoffset="1.4" fill="none"/>
<path d="M543.4,77.3 L543.3,135.5" stroke="#fff" stroke-opacity="0.64" stroke-width="1.0" stroke-dasharray="3.2,6.5" stroke-dashoffset="2.8" fill="none"/>
<path d="M546.0,74.3 L545.9,128.8" stroke="#fff" stroke-opacity="0.59" stroke-width="1.2" stroke-dasharray="2.2,4.1" stroke-dashoffset="8.8" fill="none"/>
<path d="M549.9,75.2 L549.4,123.8" stroke="#fff" stroke-opacity="0.76" stroke-width="1.2" stroke-dasharray="2.5,4.7" stroke-dashoffset="1.3" fill="none"/>
<path d="M551.2,79.8 L551.4,122.7" stroke="#fff" stroke-opacity="0.76" stroke-width="0.9" stroke-dasharray="3.2,4.6" stroke-dashoffset="5.6" fill="none"/>
<path d="M552.5,81.5 L552.2,120.3" stroke="#000" stroke-opacity="0.57" stroke-width="1.2" stroke-dasharray="3.0,6.0" stroke-dashoffset="10.0" fill="none"/>
<path d="M553.8,85.9 L553.5,116.5" stroke="#000" stroke-opacity="0.53" stroke-width="0.9" stroke-dasharray="1.9,3.5" stroke-dashoffset="5.7" fill="none"/>
<path d="M514.3,86.0 L514.3,126.0" stroke="#000" stroke-opacity="0.7" stroke-width="1" stroke-dasharray="5,2.5" fill="none"/>
<path d="M522.0,78.0 L522.0,132.0" stroke="#000" stroke-opacity="0.7" stroke-width="1" stroke-dasharray="5,2.5" fill="none"/>
<path d="M545.5,78.0 L545.5,128.0" stroke="#000" stroke-opacity="0.7" stroke-width="1" stroke-dasharray="5,2.5" fill="none"/>
<path d="M511.4,102.8 C511.4,85.8 516.6,85.8 516.6,102.8" stroke="#b01018" stroke-width="1" fill="none" stroke-dasharray="3.5,2.2"/>
<path d="M513.6,98.1 C513.6,81.1 518.0,81.1 518.0,98.1" stroke="#b01018" stroke-width="1" fill="none" stroke-dasharray="3.5,2.2"/>
<path d="M516.2,95.6 C516.2,78.6 519.0,78.6 519.0,95.6" stroke="#b01018" stroke-width="1" fill="none" stroke-dasharray="3.5,2.2"/>
<path d="M517.9,96.6 C517.9,79.6 520.9,79.6 520.9,96.6" stroke="#b01018" stroke-width="1" fill="none" stroke-dasharray="3.5,2.2"/>
<path d="M518.4,93.2 C518.4,76.2 524.0,76.2 524.0,93.2" stroke="#b01018" stroke-width="1" fill="none" stroke-dasharray="3.5,2.2"/>
<path d="M521.3,90.0 C521.3,73.0 524.7,73.0 524.7,90.0" stroke="#b01018" stroke-width="1" fill="none" stroke-dasharray="3.5,2.2"/>
<path d="M521.9,89.4 C521.9,72.4 527.7,72.4 527.7,89.4" stroke="#b01018" stroke-width="1" fill="none" stroke-dasharray="3.5,2.2"/>
<path d="M525.3,91.0 C525.3,74.0 527.9,74.0 527.9,91.0" stroke="#000" stroke-width="1" fill="none"/>
<path d="M525.6,89.9 C525.6,72.9 531.2,72.9 531.2,89.9" stroke="#b01018" stroke-width="1" fill="none" stroke-dasharray="3.5,2.2"/>
<path d="M528.9,88.9 C528.9,71.9 531.5,71.9 531.5,88.9" stroke="#b01018" stroke-width="1" fill="none" stroke-dasharray="3.5,2.2"/>
<path d="M529.3,90.8 C529.3,73.8 534.7,73.8 534.7,90.8" stroke="#b01018" stroke-width="1" fill="none" stroke-dasharray="3.5,2.2"/>
<path d="M532.1,91.1 C532.1,74.1 535.5,74.1 535.5,91.1" stroke="#000" stroke-width="1" fill="none"/>
<path d="M533.4,87.1 C533.4,70.1 537.8,70.1 537.8,87.1" stroke="#b01018" stroke-width="1" fill="none" stroke-dasharray="3.5,2.2"/>
<path d="M534.9,91.2 C534.9,74.2 539.9,74.2 539.9,91.2" stroke="#b01018" stroke-width="1" fill="none" stroke-dasharray="3.5,2.2"/>
<path d="M537.1,90.4 C537.1,73.4 541.3,73.4 541.3,90.4" stroke="#b01018" stroke-width="1" fill="none" stroke-dasharray="3.5,2.2"/>
<path d="M538.4,86.9 C538.4,69.9 543.6,69.9 543.6,86.9" stroke="#b01018" stroke-width="1" fill="none" stroke-dasharray="3.5,2.2"/>
<path d="M540.4,91.5 C540.4,74.5 545.2,74.5 545.2,91.5" stroke="#b01018" stroke-width="1" fill="none" stroke-dasharray="3.5,2.2"/>
<path d="M542.9,87.6 C542.9,70.6 546.3,70.6 546.3,87.6" stroke="#b01018" stroke-width="1" fill="none" stroke-dasharray="3.5,2.2"/>
<path d="M545.0,91.3 C545.0,74.3 547.8,74.3 547.8,91.3" stroke="#000" stroke-width="1" fill="none"/>
<path d="M545.9,91.5 C545.9,74.5 550.5,74.5 550.5,91.5" stroke="#b01018" stroke-width="1" fill="none" stroke-dasharray="3.5,2.2"/>
<path d="M547.7,91.1 C547.7,74.1 552.3,74.1 552.3,91.1" stroke="#000" stroke-width="1" fill="none"/>
<path d="M549.7,94.5 C549.7,77.5 553.9,77.5 553.9,94.5" stroke="#b01018" stroke-width="1" fill="none" stroke-dasharray="3.5,2.2"/>
<path d="M475.5,95.0 L475.5,160.0" stroke="#b01018" stroke-width="1.1" stroke-dasharray="3.5,2.2" stroke-dashoffset="3.2" fill="none"/>
<path d="M477.0,96.0 L477.0,158.0" stroke="#b01018" stroke-width="1.1" stroke-dasharray="3.5,2.2" stroke-dashoffset="4.4" fill="none"/>
<path d="M484.0,92.0 L484.0,128.0" stroke="#b01018" stroke-width="1.1" stroke-dasharray="3.5,2.2" stroke-dashoffset="2.4" fill="none"/>
<path d="M487.0,91.0 L487.0,132.0" stroke="#b01018" stroke-width="1.1" stroke-dasharray="3.5,2.2" stroke-dashoffset="1.2" fill="none"/>
<path d="M490.5,90.0 L490.5,160.0" stroke="#b01018" stroke-width="1.1" stroke-dasharray="3.5,2.2" stroke-dashoffset="1.2" fill="none"/>
<path d="M492.0,92.0 L492.0,150.0" stroke="#b01018" stroke-width="1.1" stroke-dasharray="3.5,2.2" stroke-dashoffset="4.8" fill="none"/>
<path d="M498.5,88.0 L498.5,152.0" stroke="#b01018" stroke-width="1.1" stroke-dasharray="3.5,2.2" stroke-dashoffset="3.5" fill="none"/>
<path d="M500.0,90.0 L500.0,148.0" stroke="#b01018" stroke-width="1.1" stroke-dasharray="3.5,2.2" stroke-dashoffset="1.5" fill="none"/>
<path d="M501.5,88.0 L501.5,150.0" stroke="#b01018" stroke-width="1.1" stroke-dasharray="3.5,2.2" stroke-dashoffset="0.1" fill="none"/>
<path d="M503.0,89.0 L503.0,157.0" stroke="#b01018" stroke-width="1.1" stroke-dasharray="3.5,2.2" stroke-dashoffset="2.5" fill="none"/>
<path d="M504.5,87.0 L504.5,155.0" stroke="#b01018" stroke-width="1.1" stroke-dasharray="3.5,2.2" stroke-dashoffset="3.4" fill="none"/>
<path d="M506.0,88.0 L506.0,158.0" stroke="#b01018" stroke-width="1.1" stroke-dasharray="3.5,2.2" stroke-dashoffset="2.1" fill="none"/>
<path d="M507.5,88.0 L507.5,150.0" stroke="#b01018" stroke-width="1.1" stroke-dasharray="3.5,2.2" stroke-dashoffset="1.3" fill="none"/>
<path d="M509.0,86.0 L509.0,160.0" stroke="#b01018" stroke-width="1.1" stroke-dasharray="3.5,2.2" stroke-dashoffset="3.3" fill="none"/>
<path d="M510.5,85.0 L510.5,158.0" stroke="#b01018" stroke-width="1.1" stroke-dasharray="3.5,2.2" stroke-dashoffset="4.6" fill="none"/>
<path d="M512.0,86.0 L512.0,150.0" stroke="#b01018" stroke-width="1.1" stroke-dasharray="3.5,2.2" stroke-dashoffset="1.1" fill="none"/>
<path d="M501.5,141.7 C501.5,142.5 501.3,145.4 501.5,146.5 C501.7,147.7 502.3,148.5 502.7,148.5 C503.1,148.5 503.8,147.7 504.0,146.5 C504.2,145.4 504.0,142.5 504.0,141.7" stroke="#b01018" stroke-width="1.1" stroke-dasharray="3.5,2.2" fill="none"/>
<path d="M516.6,137.6 C516.6,139.1 516.2,144.7 516.6,146.5 C517.0,148.3 518.1,148.5 518.9,148.5 C519.7,148.5 520.8,148.3 521.2,146.5 C521.6,144.7 521.2,139.1 521.2,137.6" stroke="#b01018" stroke-width="1.1" stroke-dasharray="3.5,2.2" fill="none"/>
<path d="M506.2,143.7 C506.2,144.8 506.0,149.1 506.2,150.6 C506.5,152.1 507.2,152.6 507.7,152.6 C508.2,152.6 509.0,152.1 509.2,150.6 C509.5,149.1 509.2,144.8 509.2,143.7" stroke="#b01018" stroke-width="1.1" stroke-dasharray="3.5,2.2" fill="none"/>
<path d="M503.9,149.7 C503.9,151.0 503.5,155.8 503.9,157.5 C504.3,159.1 505.6,159.5 506.4,159.5 C507.2,159.5 508.5,159.1 508.9,157.5 C509.3,155.8 508.9,151.0 508.9,149.7" stroke="#b01018" stroke-width="1.1" stroke-dasharray="3.5,2.2" fill="none"/>
<path d="M524.0,137.2 C524.0,138.3 523.8,142.5 524.0,143.9 C524.2,145.4 524.8,145.9 525.2,145.9 C525.5,145.9 526.1,145.4 526.3,143.9 C526.5,142.5 526.3,138.3 526.3,137.2" stroke="#b01018" stroke-width="1.1" stroke-dasharray="3.5,2.2" fill="none"/>
<path d="M512.5,153.0 C512.5,153.7 512.3,156.2 512.5,157.2 C512.7,158.2 513.4,159.2 513.8,159.2 C514.2,159.2 514.8,158.2 515.0,157.2 C515.2,156.2 515.0,153.7 515.0,153.0" stroke="#b01018" stroke-width="1.1" stroke-dasharray="3.5,2.2" fill="none"/>
<path d="M548.2,126.3 C548.2,127.7 548.0,132.9 548.2,134.7 C548.4,136.4 549.0,136.7 549.5,136.7 C549.9,136.7 550.5,136.4 550.7,134.7 C550.9,132.9 550.7,127.7 550.7,126.3" stroke="#b01018" stroke-width="1.1" stroke-dasharray="3.5,2.2" fill="none"/>
<path d="M498.9,141.7 C498.9,143.5 498.5,150.5 498.9,152.6 C499.3,154.8 500.6,154.6 501.4,154.6 C502.2,154.6 503.5,154.8 503.9,152.6 C504.3,150.5 503.9,143.5 503.9,141.7" stroke="#b01018" stroke-width="1.1" stroke-dasharray="3.5,2.2" fill="none"/>
<path d="M534.7,134.1 C534.7,135.0 534.4,138.2 534.7,139.4 C534.9,140.6 535.7,141.4 536.2,141.4 C536.7,141.4 537.5,140.6 537.8,139.4 C538.0,138.2 537.8,135.0 537.8,134.1" stroke="#b01018" stroke-width="1.1" stroke-dasharray="3.5,2.2" fill="none"/>
<path d="M538.0,133.7 C538.0,134.8 537.6,138.9 538.0,140.3 C538.3,141.7 539.4,142.3 540.1,142.3 C540.9,142.3 541.9,141.7 542.3,140.3 C542.7,138.9 542.3,134.8 542.3,133.7" stroke="#b01018" stroke-width="1.1" stroke-dasharray="3.5,2.2" fill="none"/>
<path d="M509.1,146.6 C509.1,148.4 508.7,155.3 509.1,157.4 C509.5,159.6 510.8,159.4 511.6,159.4 C512.4,159.4 513.7,159.6 514.1,157.4 C514.5,155.3 514.1,148.4 514.1,146.6" stroke="#b01018" stroke-width="1.1" stroke-dasharray="3.5,2.2" fill="none"/>
<path d="M539.8,136.9 C539.8,137.8 539.5,141.4 539.8,142.7 C540.2,144.0 541.2,144.7 541.9,144.7 C542.6,144.7 543.7,144.0 544.0,142.7 C544.4,141.4 544.0,137.8 544.0,136.9" stroke="#b01018" stroke-width="1.1" stroke-dasharray="3.5,2.2" fill="none"/>
<path d="M525.9,141.9 C525.9,142.6 525.7,145.1 525.9,146.1 C526.0,147.2 526.6,148.1 526.9,148.1 C527.3,148.1 527.8,147.2 528.0,146.1 C528.1,145.1 528.0,142.6 528.0,141.9" stroke="#b01018" stroke-width="1.1" stroke-dasharray="3.5,2.2" fill="none"/>
<path d="M512.5,138.6 C512.5,140.5 512.2,147.9 512.5,150.2 C512.8,152.5 513.9,152.2 514.5,152.2 C515.2,152.2 516.2,152.5 516.6,150.2 C516.9,147.9 516.6,140.5 516.6,138.6" stroke="#b01018" stroke-width="1.1" stroke-dasharray="3.5,2.2" fill="none"/>
<path d="M520.8,143.7 C520.8,145.6 520.4,153.0 520.8,155.3 C521.2,157.6 522.4,157.3 523.3,157.3 C524.1,157.3 525.3,157.6 525.7,155.3 C526.2,153.0 525.7,145.6 525.7,143.7" stroke="#b01018" stroke-width="1.1" stroke-dasharray="3.5,2.2" fill="none"/>
<path d="M517.6,143.3 C517.6,144.2 517.4,147.6 517.6,148.9 C517.8,150.1 518.5,150.9 519.0,150.9 C519.4,150.9 520.1,150.1 520.3,148.9 C520.5,147.6 520.3,144.2 520.3,143.3" stroke="#b01018" stroke-width="1.1" stroke-dasharray="3.5,2.2" fill="none"/>
<path d="M508.3,144.6 C508.3,146.4 507.9,153.2 508.3,155.4 C508.7,157.5 509.8,157.4 510.6,157.4 C511.4,157.4 512.6,157.5 513.0,155.4 C513.4,153.2 513.0,146.4 513.0,144.6" stroke="#b01018" stroke-width="1.1" stroke-dasharray="3.5,2.2" fill="none"/>
<path d="M522.7,146.2 C522.7,147.0 522.4,149.8 522.7,150.9 C523.1,152.0 524.2,152.9 524.9,152.9 C525.7,152.9 526.8,152.0 527.1,150.9 C527.5,149.8 527.1,147.0 527.1,146.2" stroke="#b01018" stroke-width="1.1" stroke-dasharray="3.5,2.2" fill="none"/>
<path d="M532.2,138.3 C532.2,140.0 531.8,146.3 532.2,148.3 C532.5,150.3 533.6,150.3 534.4,150.3 C535.1,150.3 536.2,150.3 536.5,148.3 C536.9,146.3 536.5,140.0 536.5,138.3" stroke="#b01018" stroke-width="1.1" stroke-dasharray="3.5,2.2" fill="none"/>
<path d="M522.7,138.6 C522.7,139.7 522.3,143.8 522.7,145.2 C523.0,146.7 524.1,147.2 524.9,147.2 C525.6,147.2 526.7,146.7 527.0,145.2 C527.4,143.8 527.0,139.7 527.0,138.6" stroke="#b01018" stroke-width="1.1" stroke-dasharray="3.5,2.2" fill="none"/>
<path d="M540.0,137.5 C540.0,138.7 539.8,143.1 540.0,144.7 C540.3,146.2 541.1,146.7 541.6,146.7 C542.2,146.7 543.0,146.2 543.2,144.7 C543.5,143.1 543.2,138.7 543.2,137.5" stroke="#b01018" stroke-width="1.1" stroke-dasharray="3.5,2.2" fill="none"/>
<path d="M548.0,132.1 C548.0,133.0 547.8,136.0 548.0,137.2 C548.2,138.3 548.8,139.2 549.2,139.2 C549.7,139.2 550.3,138.3 550.5,137.2 C550.7,136.0 550.5,133.0 550.5,132.1" stroke="#b01018" stroke-width="1.1" stroke-dasharray="3.5,2.2" fill="none"/>
<path d="M505.7,153.3 C505.7,154.1 505.3,157.2 505.7,158.4 C506.0,159.6 507.1,160.4 507.9,160.4 C508.6,160.4 509.7,159.6 510.1,158.4 C510.4,157.2 510.1,154.1 510.1,153.3" stroke="#b01018" stroke-width="1.1" stroke-dasharray="3.5,2.2" fill="none"/>
<path d="M541.0,137.2 C541.0,138.3 540.7,142.5 541.0,144.0 C541.3,145.4 542.3,146.0 543.0,146.0 C543.6,146.0 544.6,145.4 545.0,144.0 C545.3,142.5 545.0,138.3 545.0,137.2" stroke="#b01018" stroke-width="1.1" stroke-dasharray="3.5,2.2" fill="none"/>
<path d="M527.5,130.7 C527.5,132.6 527.3,140.2 527.5,142.5 C527.7,144.7 528.2,144.5 528.5,144.5 C528.9,144.5 529.4,144.7 529.6,142.5 C529.7,140.2 529.6,132.6 529.6,130.7" stroke="#b01018" stroke-width="1.1" stroke-dasharray="3.5,2.2" fill="none"/>
<path d="M531.4,136.6 C531.4,137.8 531.0,142.5 531.4,144.0 C531.8,145.6 533.0,146.0 533.8,146.0 C534.6,146.0 535.8,145.6 536.2,144.0 C536.6,142.5 536.2,137.8 536.2,136.6" stroke="#b01018" stroke-width="1.1" stroke-dasharray="3.5,2.2" fill="none"/>
<path d="M544.0,134.7 C544.0,135.7 543.8,139.4 544.0,140.7 C544.2,142.1 544.9,142.7 545.3,142.7 C545.8,142.7 546.4,142.1 546.6,140.7 C546.9,139.4 546.6,135.7 546.6,134.7" stroke="#b01018" stroke-width="1.1" stroke-dasharray="3.5,2.2" fill="none"/>
<path d="M513.4,143.8 C513.4,144.8 513.0,148.5 513.4,149.8 C513.7,151.2 514.6,151.8 515.2,151.8 C515.9,151.8 516.8,151.2 517.1,149.8 C517.4,148.5 517.1,144.8 517.1,143.8" stroke="#b01018" stroke-width="1.1" stroke-dasharray="3.5,2.2" fill="none"/>
<path d="M519.4,139.7 C519.4,140.8 519.0,145.0 519.4,146.5 C519.8,148.0 521.0,148.5 521.8,148.5 C522.6,148.5 523.8,148.0 524.2,146.5 C524.5,145.0 524.2,140.8 524.2,139.7" stroke="#b01018" stroke-width="1.1" stroke-dasharray="3.5,2.2" fill="none"/>
<path d="M521.5,143.3 C521.5,144.6 521.1,149.1 521.5,150.7 C521.9,152.3 523.0,152.7 523.8,152.7 C524.6,152.7 525.8,152.3 526.2,150.7 C526.6,149.1 526.2,144.6 526.2,143.3" stroke="#b01018" stroke-width="1.1" stroke-dasharray="3.5,2.2" fill="none"/>
<path d="M545.9,127.2 C545.9,128.6 545.6,133.7 545.9,135.4 C546.2,137.1 547.1,137.4 547.7,137.4 C548.3,137.4 549.2,137.1 549.5,135.4 C549.8,133.7 549.5,128.6 549.5,127.2" stroke="#b01018" stroke-width="1.1" stroke-dasharray="3.5,2.2" fill="none"/>
<path d="M499.7,147.4 C499.7,148.1 499.5,150.5 499.7,151.5 C499.9,152.5 500.5,153.5 501.0,153.5 C501.4,153.5 502.0,152.5 502.2,151.5 C502.5,150.5 502.2,148.1 502.2,147.4" stroke="#b01018" stroke-width="1.1" stroke-dasharray="3.5,2.2" fill="none"/>
<path d="M539.8,125.3 C539.8,127.0 539.6,133.2 539.8,135.1 C540.1,137.1 541.0,137.1 541.6,137.1 C542.1,137.1 543.0,137.1 543.3,135.1 C543.6,133.2 543.3,127.0 543.3,125.3" stroke="#b01018" stroke-width="1.1" stroke-dasharray="3.5,2.2" fill="none"/>
<path d="M527.2,136.1 C527.2,137.5 526.9,142.8 527.2,144.5 C527.5,146.3 528.3,146.5 528.9,146.5 C529.5,146.5 530.4,146.3 530.7,144.5 C531.0,142.8 530.7,137.5 530.7,136.1" stroke="#b01018" stroke-width="1.1" stroke-dasharray="3.5,2.2" fill="none"/>
<path d="M538.9,128.8 C538.9,129.8 538.6,133.5 538.9,134.8 C539.2,136.1 540.2,136.8 540.8,136.8 C541.4,136.8 542.3,136.1 542.6,134.8 C542.9,133.5 542.6,129.8 542.6,128.8" stroke="#b01018" stroke-width="1.1" stroke-dasharray="3.5,2.2" fill="none"/>
<path d="M512.6,147.9 C512.6,149.3 512.3,154.6 512.6,156.4 C512.9,158.1 513.8,158.4 514.4,158.4 C515.0,158.4 515.9,158.1 516.2,156.4 C516.5,154.6 516.2,149.3 516.2,147.9" stroke="#b01018" stroke-width="1.1" stroke-dasharray="3.5,2.2" fill="none"/>
<path d="M537.9,136.3 C537.9,137.8 537.6,143.4 537.9,145.2 C538.1,147.1 539.0,147.2 539.5,147.2 C540.1,147.2 540.9,147.1 541.2,145.2 C541.5,143.4 541.2,137.8 541.2,136.3" stroke="#b01018" stroke-width="1.1" stroke-dasharray="3.5,2.2" fill="none"/>
<path d="M524.2,140.8 C524.2,142.0 523.9,146.8 524.2,148.4 C524.6,150.0 525.6,150.4 526.3,150.4 C527.0,150.4 528.0,150.0 528.3,148.4 C528.7,146.8 528.3,142.0 528.3,140.8" stroke="#b01018" stroke-width="1.1" stroke-dasharray="3.5,2.2" fill="none"/>
<path d="M525.3,137.5 C525.3,139.1 524.9,145.2 525.3,147.1 C525.7,149.0 526.9,149.1 527.7,149.1 C528.5,149.1 529.7,149.0 530.1,147.1 C530.5,145.2 530.1,139.1 530.1,137.5" stroke="#b01018" stroke-width="1.1" stroke-dasharray="3.5,2.2" fill="none"/>
<path d="M544.2,133.5 C544.2,134.9 544.0,140.2 544.2,142.0 C544.4,143.7 545.1,144.0 545.6,144.0 C546.0,144.0 546.7,143.7 547.0,142.0 C547.2,140.2 547.0,134.9 547.0,133.5" stroke="#b01018" stroke-width="1.1" stroke-dasharray="3.5,2.2" fill="none"/>
<path d="M547.8,133.7 C547.8,134.5 547.6,137.5 547.8,138.7 C548.0,139.8 548.6,140.7 549.0,140.7 C549.5,140.7 550.1,139.8 550.3,138.7 C550.5,137.5 550.3,134.5 550.3,133.7" stroke="#b01018" stroke-width="1.1" stroke-dasharray="3.5,2.2" fill="none"/>
<path d="M521.6,140.5 C521.6,141.3 521.4,144.0 521.6,145.1 C521.9,146.2 522.5,147.1 523.0,147.1 C523.4,147.1 524.1,146.2 524.4,145.1 C524.6,144.0 524.4,141.3 524.4,140.5" stroke="#b01018" stroke-width="1.1" stroke-dasharray="3.5,2.2" fill="none"/>
<path d="M532.5,141.3 C532.5,142.2 532.1,145.3 532.5,146.5 C532.9,147.7 534.0,148.5 534.8,148.5 C535.6,148.5 536.8,147.7 537.2,146.5 C537.5,145.3 537.2,142.2 537.2,141.3" stroke="#b01018" stroke-width="1.1" stroke-dasharray="3.5,2.2" fill="none"/>
<path d="M536.0,132.5 C536.0,134.4 535.8,141.4 536.0,143.6 C536.2,145.8 536.8,145.6 537.2,145.6 C537.6,145.6 538.3,145.8 538.5,143.6 C538.7,141.4 538.5,134.4 538.5,132.5" stroke="#b01018" stroke-width="1.1" stroke-dasharray="3.5,2.2" fill="none"/>
<path d="M547.9,123.1 C547.9,124.3 547.5,128.8 547.9,130.3 C548.3,131.9 549.5,132.3 550.3,132.3 C551.1,132.3 552.3,131.9 552.7,130.3 C553.1,128.8 552.7,124.3 552.7,123.1" stroke="#b01018" stroke-width="1.1" stroke-dasharray="3.5,2.2" fill="none"/>
<path d="M547.0,76.0 C547.0,87.7 546.7,133.7 547.0,146.0 C547.3,158.3 548.3,150.0 549.0,150.0 C549.7,150.0 550.7,158.3 551.0,146.0 C551.3,133.7 551.3,88.7 551.0,76.0 C550.7,63.3 549.7,70.0 549.0,70.0 C548.3,70.0 547.3,75.0 547.0,76.0" stroke="#b01018" stroke-width="1.1" stroke-dasharray="3.5,2.2" fill="none"/>
<path d="M553.5,78.0 C553.5,88.5 553.1,129.8 553.5,141.0 C553.9,152.2 555.2,145.0 556.0,145.0 C556.8,145.0 558.1,152.2 558.5,141.0 C558.9,129.8 558.9,89.5 558.5,78.0 C558.1,66.5 556.8,72.0 556.0,72.0 C555.2,72.0 553.9,77.0 553.5,78.0" stroke="#b01018" stroke-width="1.1" stroke-dasharray="3.5,2.2" fill="none"/>
<path d="M562.0,86.0 C562.0,94.5 561.5,127.8 562.0,137.0 C562.5,146.2 564.0,141.0 565.0,141.0 C566.0,141.0 567.5,146.2 568.0,137.0 C568.5,127.8 568.5,95.5 568.0,86.0 C567.5,76.5 566.0,80.0 565.0,80.0 C564.0,80.0 562.5,85.0 562.0,86.0" stroke="#b01018" stroke-width="1.1" stroke-dasharray="3.5,2.2" fill="none"/>
<path d="M572.5,91.0 C572.5,97.8 572.1,124.5 572.5,132.0 C572.9,139.5 574.2,136.0 575.0,136.0 C575.8,136.0 577.1,139.5 577.5,132.0 C577.9,124.5 577.9,98.8 577.5,91.0 C577.1,83.2 575.8,85.0 575.0,85.0 C574.2,85.0 572.9,90.0 572.5,91.0" stroke="#b01018" stroke-width="1.1" stroke-dasharray="3.5,2.2" fill="none"/>
<path d="M505.0,86.0 C505.8,85.9 508.7,85.8 510.0,85.5 C511.3,85.2 512.0,85.1 513.0,84.0 C514.0,82.9 514.8,80.6 516.0,79.0 C517.2,77.4 518.5,75.8 520.0,74.5 C521.5,73.2 523.2,72.2 525.0,71.5 C526.8,70.8 529.2,70.6 531.0,70.5 C532.8,70.4 534.5,71.2 536.0,71.0 C537.5,70.8 538.8,69.9 540.0,69.0 C541.2,68.1 542.5,66.1 543.0,65.5" stroke="#000" stroke-width="1.1" fill="none"/>
</g>
<!-- legend -->
<line x1="598.4" y1="187.5" x2="617.6" y2="187.5" stroke="#000" stroke-width="1.1"/>
<line x1="598.4" y1="203.4" x2="617.6" y2="203.4" stroke="#a01020" stroke-width="1.1" stroke-dasharray="3.6,3"/>
<text x="619.3" y="190.8" style="font-size:11.2px">Experiment</text>
<text x="619.3" y="206.4" style="font-size:11.2px">Model</text>
<text x="545" y="280" text-anchor="middle" style="font-size:17.8px;font-weight:normal;stroke:#000;stroke-width:0.3px">(b)</text>
</g>
</svg>
</body></html>
